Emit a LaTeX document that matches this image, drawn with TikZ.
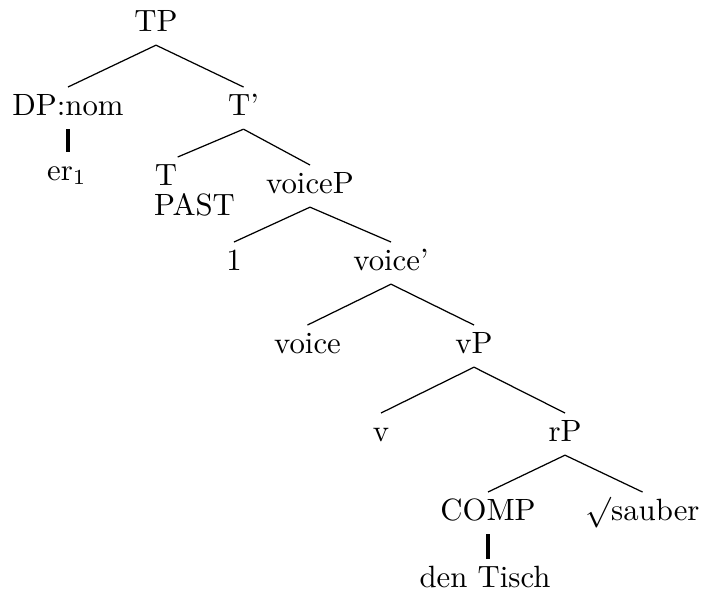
\documentclass[tikz,border=0pt]{standalone}
\begin{document}
\begin{tikzpicture}[x=0.325pt, y=-0.325pt,
		every node/.style={anchor=base, text height=6.9pt, text depth=2.4pt, inner ysep=2pt},
		branch/.style={black, thin},
		stem/.style={black, line width=1.2pt}]
		\useasboundingbox (0, 0) rectangle (704, 594);
		\node at (156, 31) (tp) {TP};
		\node at (68, 115) (dp) {DP:nom};
		\node at (243.5, 115) (tbar) {T'};
		\node at (67, 180) (er) {er$_1$};
		\node [inner xsep=0pt] at (166, 185) (t) {T};
		\node at (194.5, 215) (past) {PAST};
		\node at (310, 193) (voicep) {voiceP};
		\node at (234, 270) (one) {1};
		\node at (391, 270) (voicebar) {voice'};
		\node at (307.5, 353) (voice) {voice};
		\node at (474, 353) (vp) {vP};
		\node at (381, 441) (v) {v};
		\node at (565, 441) (rp) {rP};
		\node at (488, 520) (comp) {COMP};
		\node at (642.5, 520) (root) {$\surd$sauber};
		\node at (485, 587) (dp2) {den Tisch};
		\draw [branch] (tp.south) -- (dp.north);
		\draw [branch] (tp.south) -- (tbar.north);
		\draw [stem] (dp.south) -- (dp.south |- er.north);
		\draw [branch] (tbar.south) -- (t.north east);
		\draw [branch] (tbar.south) -- (voicep.north);
		\draw [branch] (voicep.south) -- (one.north);
		\draw [branch] (voicep.south) -- (voicebar.north);
		\draw [branch] (voicebar.south) -- (voice.north);
		\draw [branch] (voicebar.south) -- (vp.north);
		\draw [branch] (vp.south) -- (v.north);
		\draw [branch] (vp.south) -- (rp.north);
		\draw [branch] (rp.south) -- (comp.north);
		\draw [branch] (rp.south) -- (root.north);
		\draw [stem] (comp.south) -- (comp.south |- dp2.north);
	\end{tikzpicture}
\end{document}
